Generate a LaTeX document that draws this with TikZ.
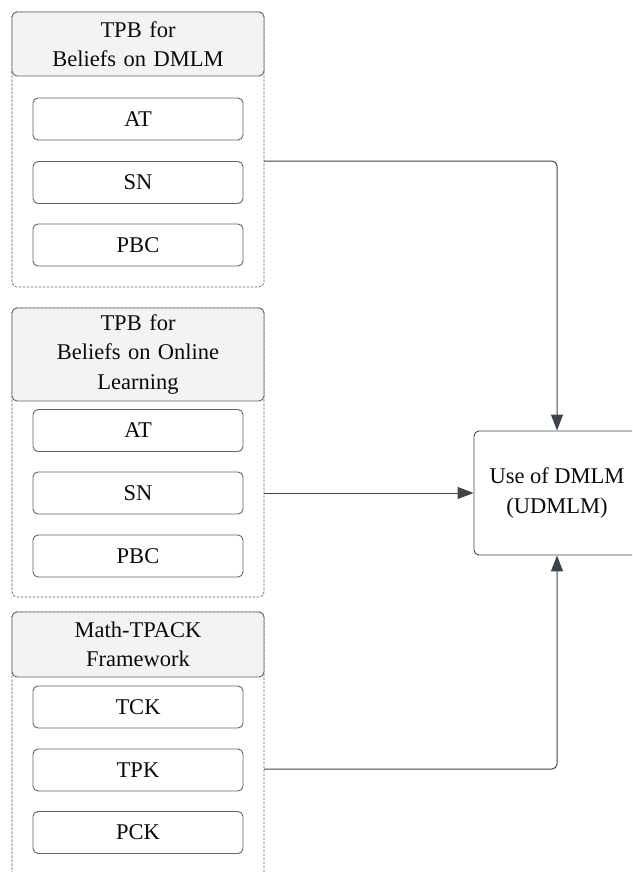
\documentclass[tikz,border=0pt]{standalone}
\usepackage{fontspec}
\setmainfont{Liberation Serif}
\usetikzlibrary{arrows.meta}

\begin{document}
\begin{tikzpicture}[x=1pt,y=-1pt]
% ------------------------------------------------ theme colors
\definecolor{fw_line}{RGB}{62,68,78}     %#3E444E
\definecolor{fw_edge}{RGB}{96,100,108}   %#60646C
\definecolor{fw_head}{RGB}{242,243,245}  %#F2F3F5
\definecolor{fw_text}{RGB}{10,10,10}     %#0A0A0A

\tikzset{
  grpbox/.style={draw=fw_edge,line width=0.7pt,dash pattern=on 2.5pt off 1.5pt,rounded corners=5pt,minimum width=252pt,inner sep=0pt},
  headbox/.style={draw=fw_edge,fill=fw_head,line width=0.9pt,rounded corners=5pt,minimum width=252pt,text width=240pt,align=center,inner sep=0pt,text=fw_text,font=\fontsize{22.5}{29.5}\selectfont},
  itembox/.style={draw=fw_edge,fill=white,line width=0.9pt,rounded corners=5pt,minimum width=210pt,minimum height=42pt,inner sep=0pt,text=fw_text,font=\fontsize{22.5}{26}\selectfont},
  usebox/.style={draw=fw_line,fill=white,line width=0.9pt,rounded corners=5pt,minimum width=166pt,minimum height=124pt,align=center,inner sep=0pt,text=fw_text,font=\fontsize{22.5}{29.5}\selectfont},
  link/.style={draw=fw_line,line width=1pt,rounded corners=5pt,-{Triangle[length=16pt,width=12pt]}}
}

\useasboundingbox (0,0) rectangle (632,872);
\clip (0,0) rectangle (632,872);

% ---------------------------------------------  dashed group frames
\node[grpbox,minimum height=275pt] (grp1) at (138,149.5) {};
\node[grpbox,minimum height=289pt] (grp2) at (138,452.5) {};
\node[grpbox,minimum height=290pt] (grp3) at (138,757) {};

% ---------------------------------------------  group headers
\node[headbox,minimum height=64pt] (head1) at (138,44) {TPB for\\Beliefs on DMLM};
\node[headbox,minimum height=93pt] (head2) at (138,354.5) {TPB for\\Beliefs on Online\\Learning};
\node[headbox,minimum height=65pt] (head3) at (138,644.5) {Math-TPACK\\Framework};

% ---------------------------------------------  constructs
\node[itembox] (at1) at (138,119) {AT};
\node[itembox] (sn1) at (138,182.5) {SN};
\node[itembox] (pbc1) at (138,245) {PBC};

\node[itembox] (at2) at (138,430.5) {AT};
\node[itembox] (sn2) at (138,493) {SN};
\node[itembox] (pbc2) at (138,556) {PBC};

\node[itembox] (tck) at (138,707) {TCK};
\node[itembox] (tpk) at (138,770) {TPK};
\node[itembox] (pck) at (138,832.5) {PCK};

% ---------------------------------------------  outcome
\node[usebox] (use) at (557,493) {Use of DMLM\\(UDMLM)};

% ---------------------------------------------  connectors
\coordinate (out1) at (264,161);
\coordinate (out2) at (264,493);
\coordinate (out3) at (264,769);

\draw[link] (out1) -| (use.north);
\draw[link] (out2) -- (use.west);
\draw[link] (out3) -| (use.south);

\end{tikzpicture}
\end{document}
